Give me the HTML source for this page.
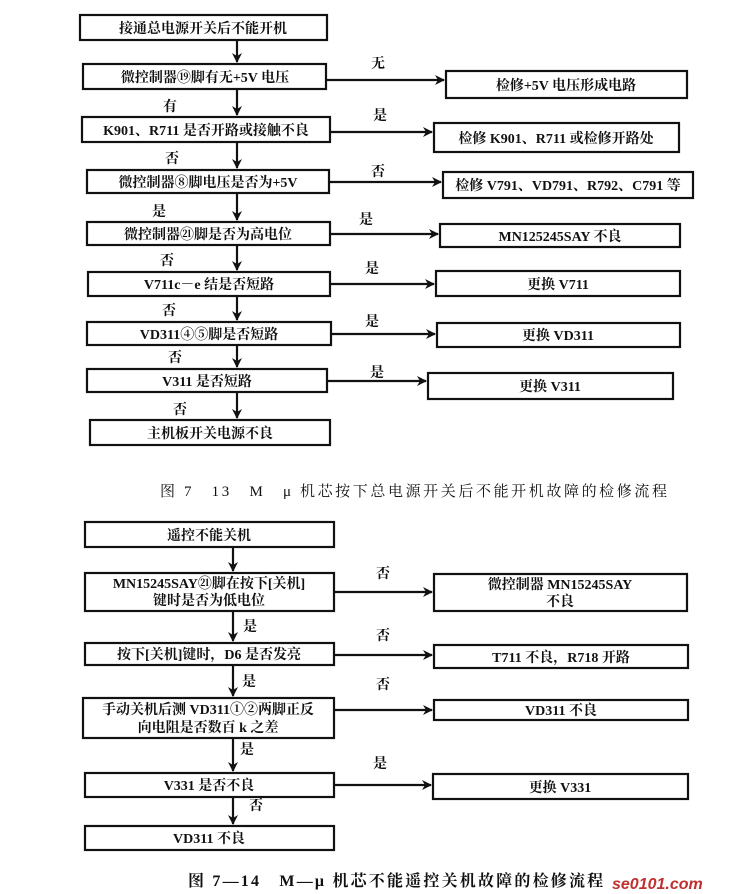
<!DOCTYPE html>
<html><head><meta charset="utf-8"><style>
html,body{margin:0;padding:0;background:#fff;}
svg{display:block}
text{font-family:"Liberation Serif","Noto Serif CJK SC",serif;font-size:14px;font-weight:bold;fill:#111;}
.b{fill:#fff;stroke:#111;stroke-width:2.2}
.l{stroke:#111;stroke-width:2.2;fill:none}
</style></head><body>
<svg width="754" height="894" viewBox="0 0 754 894" xmlns="http://www.w3.org/2000/svg">
<defs><marker id="a" markerWidth="10" markerHeight="10" refX="9" refY="5" orient="auto" markerUnits="userSpaceOnUse"><path d="M0,0 L10,5 L0,10 L3,5 z" fill="#111"/></marker></defs>

<g class="l">
<line x1="237" y1="40" x2="237" y2="62" marker-end="url(#a)"/>
<line x1="237" y1="89" x2="237" y2="115" marker-end="url(#a)"/>
<line x1="237" y1="142" x2="237" y2="168" marker-end="url(#a)"/>
<line x1="237" y1="193" x2="237" y2="220" marker-end="url(#a)"/>
<line x1="237" y1="245" x2="237" y2="270" marker-end="url(#a)"/>
<line x1="237" y1="296" x2="237" y2="320" marker-end="url(#a)"/>
<line x1="237" y1="345" x2="237" y2="367" marker-end="url(#a)"/>
<line x1="237" y1="392" x2="237" y2="418" marker-end="url(#a)"/>
<line x1="327" y1="80" x2="444" y2="80" marker-end="url(#a)"/>
<line x1="330" y1="132" x2="432" y2="132" marker-end="url(#a)"/>
<line x1="329" y1="182" x2="441" y2="182" marker-end="url(#a)"/>
<line x1="330" y1="234" x2="438" y2="234" marker-end="url(#a)"/>
<line x1="330" y1="284" x2="434" y2="284" marker-end="url(#a)"/>
<line x1="331" y1="334" x2="435" y2="334" marker-end="url(#a)"/>
<line x1="327" y1="381" x2="426" y2="381" marker-end="url(#a)"/>
</g>
<rect class="b" x="80" y="15" width="247" height="25"/><text x="203" y="33" text-anchor="middle">接通总电源开关后不能开机</text>
<rect class="b" x="83" y="64" width="243" height="25"/><text x="205" y="82" text-anchor="middle">微控制器⑲脚有无+5V 电压</text>
<rect class="b" x="446" y="71" width="241" height="27"/><text x="566" y="90" text-anchor="middle">检修+5V 电压形成电路</text>
<rect class="b" x="82" y="117" width="248" height="25"/><text x="206" y="135" text-anchor="middle">K901、R711 是否开路或接触不良</text>
<rect class="b" x="434" y="123" width="245" height="29"/><text x="556" y="143" text-anchor="middle">检修 K901、R711 或检修开路处</text>
<rect class="b" x="87" y="170" width="242" height="23"/><text x="208" y="187" text-anchor="middle">微控制器⑧脚电压是否为+5V</text>
<rect class="b" x="443" y="172" width="250" height="26"/><text x="568" y="190" text-anchor="middle">检修 V791、VD791、R792、C791 等</text>
<rect class="b" x="87" y="222" width="243" height="23"/><text x="208" y="239" text-anchor="middle">微控制器㉑脚是否为高电位</text>
<rect class="b" x="440" y="224" width="240" height="23"/><text x="560" y="241" text-anchor="middle">MN125245SAY 不良</text>
<rect class="b" x="88" y="272" width="242" height="24"/><text x="209" y="289" text-anchor="middle">V711c－e 结是否短路</text>
<rect class="b" x="436" y="271" width="244" height="25"/><text x="558" y="289" text-anchor="middle">更换 V711</text>
<rect class="b" x="87" y="322" width="244" height="23"/><text x="209" y="339" text-anchor="middle">VD311④⑤脚是否短路</text>
<rect class="b" x="437" y="323" width="243" height="24"/><text x="558" y="340" text-anchor="middle">更换 VD311</text>
<rect class="b" x="87" y="369" width="240" height="23"/><text x="207" y="386" text-anchor="middle">V311 是否短路</text>
<rect class="b" x="428" y="373" width="245" height="26"/><text x="550" y="391" text-anchor="middle">更换 V311</text>
<rect class="b" x="90" y="420" width="240" height="25"/><text x="210" y="438" text-anchor="middle">主机板开关电源不良</text>
<text x="378" y="68" text-anchor="middle">无</text>
<text x="380" y="120" text-anchor="middle">是</text>
<text x="378" y="176" text-anchor="middle">否</text>
<text x="366" y="224" text-anchor="middle">是</text>
<text x="372" y="273" text-anchor="middle">是</text>
<text x="372" y="326" text-anchor="middle">是</text>
<text x="377" y="377" text-anchor="middle">是</text>
<text x="170" y="111" text-anchor="middle">有</text>
<text x="172" y="163" text-anchor="middle">否</text>
<text x="159" y="216" text-anchor="middle">是</text>
<text x="167" y="265" text-anchor="middle">否</text>
<text x="169" y="315" text-anchor="middle">否</text>
<text x="175" y="362" text-anchor="middle">否</text>
<text x="180" y="414" text-anchor="middle">否</text>
<text x="160" y="496" style="font-weight:normal;font-size:15px;letter-spacing:2.6px">图 7　13　M　μ 机芯按下总电源开关后不能开机故障的检修流程</text>

<g class="l">
<line x1="233" y1="547" x2="233" y2="571" marker-end="url(#a)"/>
<line x1="233" y1="611" x2="233" y2="641" marker-end="url(#a)"/>
<line x1="233" y1="665" x2="233" y2="696" marker-end="url(#a)"/>
<line x1="233" y1="738" x2="233" y2="771" marker-end="url(#a)"/>
<line x1="233" y1="797" x2="233" y2="824" marker-end="url(#a)"/>
<line x1="334" y1="592" x2="432" y2="592" marker-end="url(#a)"/>
<line x1="334" y1="655" x2="432" y2="655" marker-end="url(#a)"/>
<line x1="334" y1="710" x2="432" y2="710" marker-end="url(#a)"/>
<line x1="334" y1="785" x2="431" y2="785" marker-end="url(#a)"/>
</g>
<rect class="b" x="85" y="522" width="249" height="25"/><text x="209" y="540" text-anchor="middle">遥控不能关机</text>
<rect class="b" x="85" y="573" width="249" height="38"/><text x="209" y="588" text-anchor="middle">MN15245SAY㉑脚在按下[关机]</text><text x="209" y="605" text-anchor="middle">键时是否为低电位</text>
<rect class="b" x="434" y="574" width="253" height="37"/><text x="560" y="589" text-anchor="middle">微控制器 MN15245SAY</text><text x="560" y="606" text-anchor="middle">不良</text>
<rect class="b" x="85" y="643" width="249" height="22"/><text x="209" y="659" text-anchor="middle">按下[关机]键时，D6 是否发亮</text>
<rect class="b" x="434" y="645" width="254" height="23"/><text x="561" y="662" text-anchor="middle">T711 不良，R718 开路</text>
<rect class="b" x="83" y="698" width="251" height="40"/><text x="208" y="714" text-anchor="middle">手动关机后测 VD311①②两脚正反</text><text x="208" y="732" text-anchor="middle">向电阻是否数百 k 之差</text>
<rect class="b" x="434" y="700" width="254" height="20"/><text x="561" y="715" text-anchor="middle">VD311 不良</text>
<rect class="b" x="85" y="773" width="249" height="24"/><text x="209" y="790" text-anchor="middle">V331 是否不良</text>
<rect class="b" x="433" y="774" width="255" height="25"/><text x="560" y="792" text-anchor="middle">更换 V331</text>
<rect class="b" x="85" y="826" width="249" height="24"/><text x="209" y="843" text-anchor="middle">VD311 不良</text>
<text x="383" y="578" text-anchor="middle">否</text>
<text x="383" y="640" text-anchor="middle">否</text>
<text x="383" y="689" text-anchor="middle">否</text>
<text x="380" y="768" text-anchor="middle">是</text>
<text x="250" y="631" text-anchor="middle">是</text>
<text x="249" y="686" text-anchor="middle">是</text>
<text x="247" y="754" text-anchor="middle">是</text>
<text x="256" y="810" text-anchor="middle">否</text>
<text x="188" y="886" style="font-size:16px;letter-spacing:2.2px">图 7—14　M—μ 机芯不能遥控关机故障的检修流程</text>
<text x="612" y="889" style="font-size:16px;font-style:italic;fill:#c03030;font-family:'Liberation Sans',sans-serif">se0101.com</text>
</svg>
</body></html>
